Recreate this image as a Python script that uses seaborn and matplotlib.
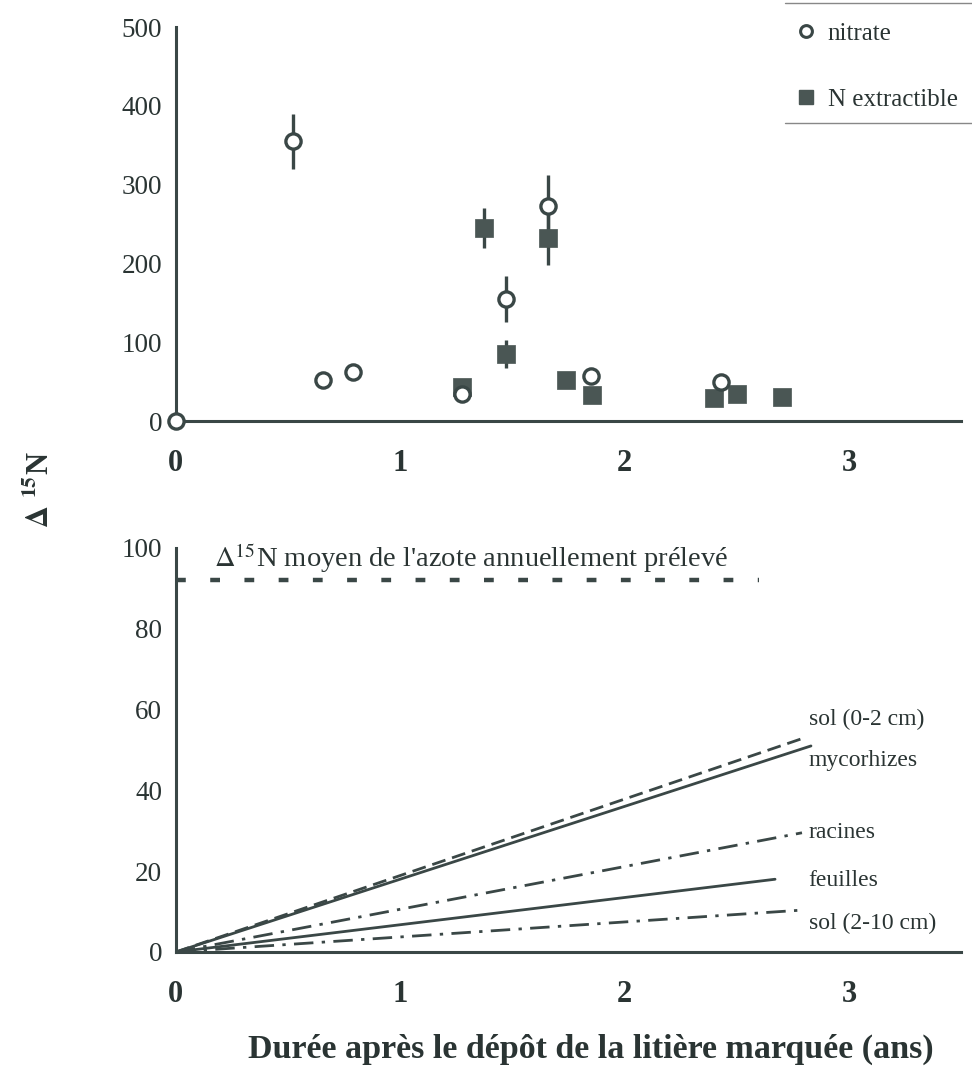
import numpy as np
import pandas as pd
import seaborn as sns
import matplotlib.pyplot as plt
from matplotlib.lines import Line2D

# top panel: delta 15N in soil solution / extractible N
nitrate_x = [0, 0.52, 0.655, 0.79, 1.275, 1.47, 1.66, 1.85, 2.43]
nitrate_y = [0, 355, 52, 62, 35, 155, 273, 58, 50]
nitrate_err = [0, 35, 0, 0, 0, 29, 39, 0, 0]

nextr_x = [1.275, 1.375, 1.47, 1.66, 1.74, 1.855, 2.40, 2.50, 2.70]
nextr_y = [43, 245, 85, 233, 53, 33, 30, 35, 31]
nextr_err = [0, 25, 18, 35, 8, 0, 0, 0, 0]

# bottom panel: fitted lines from origin
line_names = ["sol (0-2 cm)", "mycorhizes", "racines", "feuilles", "sol (2-10 cm)"]
line_end_x = [2.80, 2.83, 2.79, 2.67, 2.80]
line_end_y = [53, 51, 29.5, 18, 10.4]
mean_uptake = 92
mean_uptake_end = 2.6

sns.set_style("white")
plt.rcParams['font.family'] = ['Liberation Serif', 'DejaVu Serif']
plt.rcParams['mathtext.fontset'] = 'stix'

ink = '#3a4746'
txt = '#2a3433'

fig = plt.figure(figsize=(9.72, 10.83), dpi=100)
ax1 = fig.add_axes([0.181, 0.611, 0.808, 0.364])
ax2 = fig.add_axes([0.181, 0.121, 0.808, 0.373])

# --- top panel
ax1.errorbar(nitrate_x, nitrate_y, yerr=nitrate_err, fmt='none', ecolor=ink, elinewidth=2.4, zorder=2)
ax1.errorbar(nextr_x, nextr_y, yerr=nextr_err, fmt='none', ecolor=ink, elinewidth=2.4, zorder=2)
sns.scatterplot(x=nextr_x, y=nextr_y, ax=ax1, marker='s', s=150, color='#4a5654',
                edgecolor='#4a5654', linewidth=0.5, zorder=3, clip_on=False)
sns.scatterplot(x=nitrate_x, y=nitrate_y, ax=ax1, marker='o', s=120, color='white',
                edgecolor=ink, linewidth=2.4, zorder=4, clip_on=False)

ax1.set_xlim(0, 3.5)
ax1.set_ylim(0, 500)
ax1.set_yticks([0, 100, 200, 300, 400, 500])

# --- bottom panel
styles = [(0, (5, 2.5)), '-', (0, (7, 3, 1.2, 3)), '-', (0, (7, 3, 1.2, 3))]
label_y = [57.5, 47.5, 29.5, 17.7, 7]
for name, ex, ey, ls, ly in zip(line_names, line_end_x, line_end_y, styles, label_y):
    sns.lineplot(x=[0, ex], y=[0, ey], ax=ax2, color=ink, linewidth=2.0, linestyle=ls)
    ax2.text(2.82, ly, name, fontsize=17, color=txt, va='center', ha='left')

sns.lineplot(x=[0, mean_uptake_end], y=[mean_uptake, mean_uptake], ax=ax2, color=ink,
             linewidth=3.2, linestyle=(0, (2.2, 5.5)))
ax2.text(0.17, 97.5, r"$\Delta^{15}$N moyen de l'azote annuellement prélevé",
         fontsize=20.5, color=txt, va='center', ha='left')

ax2.set_xlim(0, 3.5)
ax2.set_ylim(0, 100)
ax2.set_yticks([0, 20, 40, 60, 80, 100])

for ax in (ax1, ax2):
    sns.despine(ax=ax)
    for s in ('left', 'bottom'):
        ax.spines[s].set_color(ink)
        ax.spines[s].set_linewidth(2.2)
    ax.set_xticks([0, 1, 2, 3])
    ax.tick_params(axis='y', direction='inout', length=12, width=2, color=ink,
                   labelsize=19.5, labelcolor=txt, pad=4)
    ax.tick_params(axis='x', direction='out', length=6, width=2, color=ink,
                   labelsize=22, labelcolor=txt, pad=14)
    for lab in ax.get_xticklabels():
        lab.set_fontweight('bold')
    ax.set_facecolor('white')

# legend with only top and bottom rules
handles = [Line2D([], [], marker='o', linestyle='none', markersize=8.5, markerfacecolor='white',
                  markeredgecolor=ink, markeredgewidth=2.2),
           Line2D([], [], marker='s', linestyle='none', markersize=10.5, markerfacecolor='#4a5654',
                  markeredgecolor='#4a5654')]
fig.legend(handles, ['nitrate', 'N extractible'], loc='upper left', bbox_to_anchor=(0.80, 0.998),
           frameon=False, fontsize=18, handletextpad=0.5, labelspacing=1.75, handlelength=0.7,
           labelcolor=txt, borderpad=0.3)
fig.add_artist(Line2D([0.808, 1.0], [0.997, 0.997], color='#888888', linewidth=1))
fig.add_artist(Line2D([0.808, 1.0], [0.886, 0.886], color='#888888', linewidth=1))

fig.text(0.042, 0.548, r"$\mathbf{\Delta}$ $\mathbf{^{15}}$N", rotation=90, fontsize=22,
         fontweight='bold', color=txt, ha='center', va='center')
fig.text(0.608, 0.031, "Durée après le dépôt de la litière marquée (ans)", fontsize=24.5,
         fontweight='bold', color=txt, ha='center', va='center')

fig.savefig('out.png', dpi=100, facecolor='white')
